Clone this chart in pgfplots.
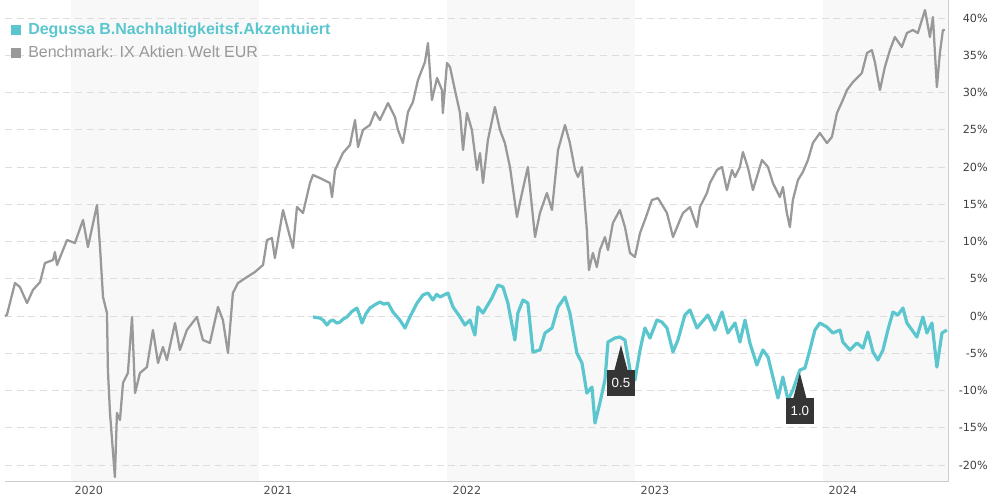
\documentclass[border=0pt]{standalone}
\usepackage{pgfplots}
\pgfplotsset{compat=1.18}
\usepackage{pgfplotstable}
\usepackage{fontspec}
\setmainfont{DejaVu Sans}
\newfontfamily\legfont{Liberation Sans}
\definecolor{teal1}{HTML}{5BC6CE}
\definecolor{gray1}{HTML}{999999}
\definecolor{band}{HTML}{F8F8F8}
\definecolor{gridc}{HTML}{DDDDDD}
\definecolor{box}{HTML}{353535}

\pgfplotstableread{
x v
2019.650 0.00
2019.660 0.13
2019.703 4.43
2019.729 3.89
2019.767 1.74
2019.798 3.49
2019.836 4.56
2019.862 7.11
2019.905 7.52
2019.915 8.59
2019.926 6.85
2019.979 10.20
2020.021 9.80
2020.064 12.89
2020.090 9.26
2020.138 14.90
2020.154 9.26
2020.170 2.55
2020.191 0.40
2020.196 -7.25
2020.207 -13.02
2020.233 -21.61
2020.244 -13.02
2020.260 -13.96
2020.276 -8.99
2020.302 -7.65
2020.324 -0.13
2020.340 -10.34
2020.366 -7.65
2020.403 -6.85
2020.435 -1.88
2020.462 -6.31
2020.488 -4.16
2020.509 -5.91
2020.552 -0.94
2020.578 -4.56
2020.615 -1.88
2020.668 -0.13
2020.700 -3.22
2020.737 -3.62
2020.780 1.21
2020.806 -0.54
2020.833 -4.97
2020.859 3.09
2020.886 4.43
2020.934 5.23
2020.976 5.91
2021.019 6.85
2021.040 10.20
2021.066 10.47
2021.082 7.79
2021.125 14.23
2021.162 10.60
2021.178 9.13
2021.199 14.63
2021.231 13.83
2021.268 17.85
2021.284 18.93
2021.321 18.52
2021.374 17.85
2021.385 15.97
2021.401 19.60
2021.443 21.88
2021.480 22.95
2021.507 26.31
2021.523 22.68
2021.549 24.97
2021.586 25.64
2021.613 27.38
2021.639 26.31
2021.682 28.59
2021.719 26.71
2021.735 24.97
2021.761 23.22
2021.788 27.38
2021.814 28.72
2021.841 31.68
2021.878 34.09
2021.894 36.64
2021.915 28.99
2021.942 31.95
2021.968 30.34
2021.973 27.25
2021.995 33.96
2022.011 33.42
2022.037 30.34
2022.064 27.25
2022.080 22.28
2022.101 27.25
2022.127 24.97
2022.154 19.60
2022.170 21.88
2022.186 17.85
2022.212 23.62
2022.249 28.05
2022.276 24.97
2022.302 23.22
2022.329 20.00
2022.366 13.29
2022.393 16.51
2022.424 20.00
2022.462 10.60
2022.488 13.83
2022.525 16.51
2022.552 14.23
2022.584 22.28
2022.621 25.64
2022.647 23.22
2022.674 19.60
2022.690 18.66
2022.711 20.00
2022.737 11.54
2022.748 6.17
2022.769 8.46
2022.790 6.58
2022.806 8.86
2022.833 10.60
2022.849 8.86
2022.875 12.48
2022.912 14.23
2022.939 11.95
2022.966 8.46
2022.992 7.92
2023.019 11.14
2023.045 12.89
2023.082 15.57
2023.114 15.84
2023.162 13.83
2023.194 10.60
2023.231 12.89
2023.247 13.83
2023.284 14.63
2023.321 11.95
2023.337 14.63
2023.374 16.51
2023.390 17.85
2023.427 19.60
2023.454 20.00
2023.480 16.91
2023.507 19.60
2023.523 18.66
2023.549 20.00
2023.565 22.01
2023.592 19.87
2023.618 16.91
2023.666 20.94
2023.698 20.00
2023.724 17.85
2023.761 15.97
2023.777 17.32
2023.798 13.83
2023.814 11.95
2023.830 15.57
2023.857 18.26
2023.883 19.33
2023.910 20.94
2023.936 23.22
2023.973 24.56
2024.011 23.22
2024.037 24.03
2024.064 27.25
2024.095 28.99
2024.117 30.34
2024.149 31.41
2024.196 32.62
2024.223 35.30
2024.249 35.70
2024.265 34.09
2024.292 30.34
2024.318 33.42
2024.345 35.70
2024.371 37.45
2024.408 36.11
2024.435 37.99
2024.467 38.39
2024.493 37.99
2024.531 41.07
2024.557 37.45
2024.573 40.13
2024.594 30.74
2024.610 35.30
2024.626 38.39
2024.637 38.39
}\bench

\pgfplotstableread{
x v
2021.284 -0.13
2021.321 -0.27
2021.340 -0.60
2021.358 -1.21
2021.374 -0.70
2021.390 -0.54
2021.410 -0.95
2021.427 -0.81
2021.445 -0.40
2021.464 -0.13
2021.490 0.60
2021.517 1.07
2021.530 0.20
2021.544 -0.94
2021.565 0.30
2021.586 1.07
2021.612 1.50
2021.639 1.88
2021.660 1.60
2021.682 1.74
2021.708 0.54
2021.745 -0.54
2021.772 -1.61
2021.798 -0.13
2021.836 1.74
2021.867 2.82
2021.894 3.09
2021.920 2.15
2021.940 2.90
2021.958 2.55
2022.000 3.09
2022.027 1.21
2022.064 -0.13
2022.090 -1.21
2022.117 -0.54
2022.143 -2.55
2022.159 1.21
2022.186 0.40
2022.233 2.42
2022.265 4.16
2022.292 3.89
2022.318 1.74
2022.355 -3.22
2022.371 0.40
2022.398 2.15
2022.424 1.74
2022.451 -4.83
2022.488 -4.56
2022.515 -2.28
2022.552 -1.61
2022.584 1.21
2022.621 2.55
2022.647 0.40
2022.684 -4.97
2022.711 -6.31
2022.737 -10.34
2022.764 -9.53
2022.780 -14.36
2022.806 -11.68
2022.833 -8.59
2022.849 -3.49
2022.886 -2.95
2022.912 -2.82
2022.939 -3.22
2022.966 -7.25
2022.992 -8.59
2023.019 -4.56
2023.045 -1.61
2023.072 -2.95
2023.109 -0.54
2023.135 -0.81
2023.162 -1.61
2023.194 -4.83
2023.220 -3.22
2023.257 0.13
2023.284 0.81
2023.321 -1.61
2023.379 0.13
2023.416 -1.88
2023.454 0.54
2023.485 -2.28
2023.523 -0.94
2023.549 -3.49
2023.576 -0.54
2023.602 -3.62
2023.639 -6.58
2023.671 -4.56
2023.698 -5.50
2023.724 -8.19
2023.751 -11.01
2023.777 -8.19
2023.804 -11.28
2023.830 -9.93
2023.867 -7.25
2023.894 -6.98
2023.920 -4.56
2023.947 -1.88
2023.973 -0.94
2024.011 -1.48
2024.042 -2.28
2024.080 -1.88
2024.095 -3.49
2024.133 -4.56
2024.170 -3.62
2024.202 -4.30
2024.228 -2.15
2024.255 -4.83
2024.281 -5.91
2024.308 -4.56
2024.334 -1.88
2024.361 0.54
2024.387 0.13
2024.414 1.07
2024.435 -0.94
2024.462 -1.88
2024.488 -2.82
2024.520 -0.13
2024.541 -2.28
2024.568 -0.94
2024.594 -6.85
2024.621 -2.28
2024.647 -1.88
}\fund

\begin{document}
\begin{tikzpicture}
\begin{axis}[
  set layers,
  scale only axis,
  width=707.25pt, height=361.5pt,
  xmin=2019.65, xmax=2024.653,
  ymin=-22.28, ymax=42.42,
  axis line style={draw=none},
  ytick={-20,-15,-10,-5,0,5,10,15,20,25,30,35,40},
  yticklabels={-20\%,-15\%,-10\%,-5\%,0\%,5\%,10\%,15\%,20\%,25\%,30\%,35\%,40\%},
  yticklabel pos=right,
  yticklabel style={anchor=east, inner sep=0pt, xshift=30pt, font=\fontsize{8.4pt}{10pt}\selectfont, text=black!75},
  xtick={2020.095,2021.098,2022.101,2023.098,2024.095},
  xticklabels={2020,2021,2022,2023,2024},
  xticklabel style={anchor=north, inner sep=0pt, yshift=-3pt, font=\fontsize{8.4pt}{10pt}\selectfont, text=black!70},
  major tick length=0pt,
  ymajorgrids,
  grid style={gridc, line width=0.75pt, dash pattern=on 5.25pt off 3.5pt},
  clip=false,
]
% background year bands
\addplot[on layer=axis background, fill=band, draw=none] coordinates {(2020,-22.28) (2021,-22.28) (2021,42.42) (2020,42.42)} -- cycle;
\addplot[on layer=axis background, fill=band, draw=none] coordinates {(2021.995,-22.28) (2022.99,-22.28) (2022.99,42.42) (2021.995,42.42)} -- cycle;
\addplot[on layer=axis background, fill=band, draw=none] coordinates {(2023.99,-22.28) (2024.653,-22.28) (2024.653,42.42) (2023.99,42.42)} -- cycle;

\addplot[gray1, line width=1.7pt, line join=round] table[x=x,y=v] {\bench};
\addplot[teal1, line width=2.4pt, line join=round] table[x=x,y=v] {\fund};

% frame lines (bottom and right)
\draw[black!20, line width=0.75pt] (rel axis cs:0,0) -- (rel axis cs:1,0) -- (rel axis cs:1,1);

% dividend markers
\fill[box] (axis cs:2022.918,-3.89) -- (axis cs:2022.953,-7.3) -- (axis cs:2022.883,-7.3) -- cycle;
\node[fill=box, text=white, inner sep=0pt, minimum width=20.5pt, minimum height=19.5pt, anchor=north, font=\legfont\fontsize{10pt}{10pt}\selectfont] at (axis cs:2022.918,-7.25) {0.5};
\fill[box] (axis cs:2023.867,-7.65) -- (axis cs:2023.902,-11.05) -- (axis cs:2023.832,-11.05) -- cycle;
\node[fill=box, text=white, inner sep=0pt, minimum width=20.5pt, minimum height=19.5pt, anchor=north, font=\legfont\fontsize{10pt}{10pt}\selectfont] at (axis cs:2023.867,-11.0) {1.0};

% legend
\fill[teal1] (axis description cs:0.0064,0.9274) rectangle ++(7.5pt,7.5pt);
\node[anchor=base west, inner sep=0pt, text=teal1, font=\legfont\bfseries\fontsize{12pt}{14pt}\selectfont] at (axis description cs:0.0244,0.9274) {Degussa B.Nachhaltigkeitsf.Akzentuiert};
\fill[gray1] (axis description cs:0.0064,0.8797) rectangle ++(7.5pt,7.5pt);
\node[anchor=base west, inner sep=0pt, text=gray1, font=\legfont\fontsize{12pt}{14pt}\selectfont] at (axis description cs:0.0244,0.8797) {Benchmark: IX Aktien Welt EUR};

\coordinate (SW) at (rel axis cs:0,0);
\end{axis}
\pgfresetboundingbox
\path[use as bounding box] ([xshift=-3.75pt,yshift=-13.5pt]SW) rectangle ++(742.5pt,375pt);
\end{tikzpicture}
\end{document}
